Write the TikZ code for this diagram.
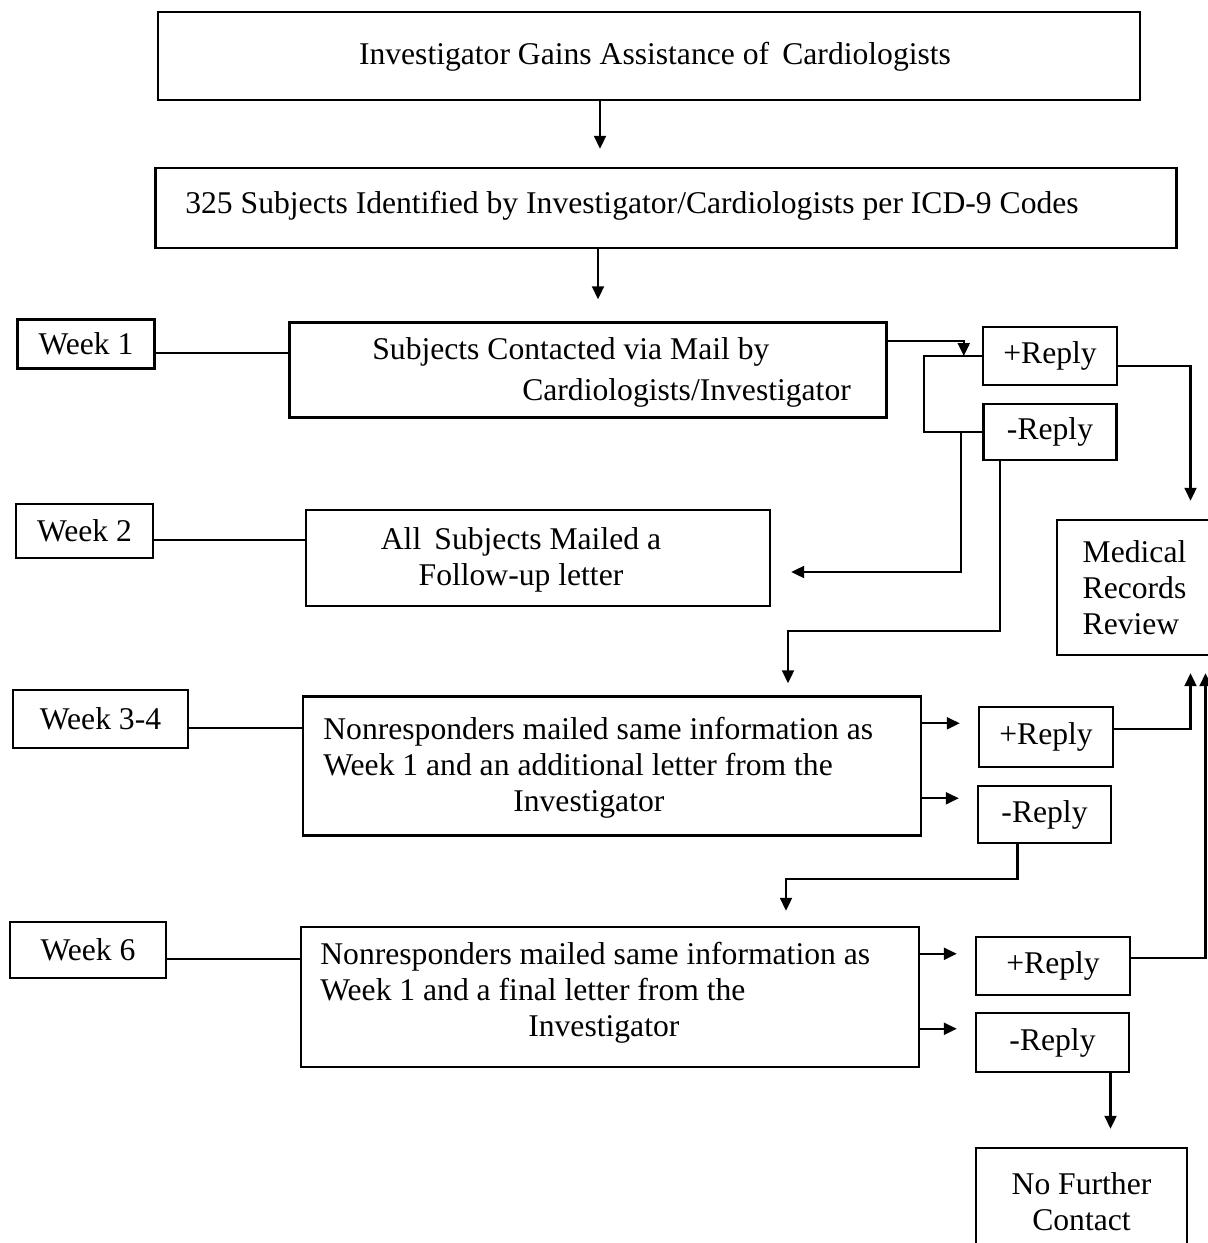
\documentclass[tikz,border=0pt]{standalone}
\usepackage{fontspec}
\setmainfont{Liberation Serif}
\usetikzlibrary{positioning,calc,arrows.meta}
\tikzset{>={Triangle[length=2.6mm,width=2.4mm]}}

\begin{document}
\begin{tikzpicture}[
    x=0.02cm, y=-0.02cm,
    font=\fontsize{18}{20.5}\selectfont,
    box/.style={draw, line width=1.4pt, inner sep=0pt},
    tag/.style={box, align=center},
    txt/.style={inner sep=0pt, align=left},
    link/.style={line width=1.2pt}
]
\useasboundingbox (0,0) rectangle (1207,1243);

% main boxes and their text
\node[box, minimum width=19.64cm, minimum height=1.76cm] (top) at (649,56) {};
\node[txt] (topT) at (655,57) {Investigator Gains Assistance of\, Cardiologists};
\node[box, minimum width=20.42cm, minimum height=1.6cm] (ident) at (666,208) {};
\node[txt] (identT) at (632,206) {325 Subjects Identified by Investigator/Cardiologists per ICD-9 Codes};
\node[box, minimum width=11.94cm, minimum height=1.9cm] (mail1) at (588,370) {};
\node[txt, anchor=west] (mail1T) at (372,372) {Subjects Contacted via Mail by\\[0.1cm]\hspace*{3cm}Cardiologists/Investigator};
\node[box, minimum width=9.28cm, minimum height=1.92cm] (mail2) at (538,558) {};
\node[txt, align=center] (mail2T) at (521,560) {All\, Subjects Mailed a\\Follow-up letter};
\node[box, minimum width=12.36cm, minimum height=2.78cm] (mail34) at (612,766) {};
\node[txt, anchor=west] (mail34T) at (323,768) {Nonresponders mailed same information as\\Week 1 and an additional letter from the\\\hspace*{3.8cm}Investigator};
\node[box, minimum width=12.36cm, minimum height=2.8cm] (mail6) at (610,997) {};
\node[txt, anchor=west] (mail6T) at (320,993) {Nonresponders mailed same information as\\Week 1 and a final letter from the\\\hspace*{4.16cm}Investigator};

% week tags
\node[tag, minimum width=2.74cm, minimum height=0.98cm] (wk1) at (86,344) {Week 1};
\node[tag, minimum width=2.74cm, minimum height=1.08cm] (wk2) at (84.5,531) {Week 2};
\node[tag, minimum width=3.5cm, minimum height=1.16cm] (wk34) at (100.5,719) {Week 3-4};
\node[tag, minimum width=3.12cm, minimum height=1.12cm] (wk6) at (88,950) {Week 6};

% replies
\node[tag, minimum width=2.68cm, minimum height=1.16cm] (pos1) at (1050,356) {+Reply};
\node[tag, minimum width=2.66cm, minimum height=1.12cm] (neg1) at (1050,432) {-Reply};
\node[tag, minimum width=2.68cm, minimum height=1.2cm] (pos34) at (1046,737) {+Reply};
\node[tag, minimum width=2.66cm, minimum height=1.14cm] (neg34) at (1044.5,814.5) {-Reply};
\node[tag, minimum width=3.08cm, minimum height=1.16cm] (pos6) at (1053,966) {+Reply};
\node[tag, minimum width=3.06cm, minimum height=1.18cm] (neg6) at (1052.5,1042.5) {-Reply};

% outcomes
\node[box, align=left, minimum width=3.1cm, minimum height=2.7cm] (mrr) at (1134.5,587.5) {Medical\\Records\\Review};
\node[tag, minimum width=4.22cm, minimum height=2.14cm] (nfc) at (1081.5,1201.5) {No Further\\Contact};

% top of the flow
\draw[link,->,shorten >=0.36cm] ($(top.south)+(-49,0)$) -- ($(ident.north)+(-66,0)$);
\draw[link,->,shorten >=0.44cm] ($(ident.south)+(-68,0)$) -- ($(mail1.north)+(10,0)$);

\foreach \w/\m in {wk1/mail1, wk2/mail2, wk34/mail34, wk6/mail6} {
  \coordinate (l) at ($(\w.east)+(0,9)$);
  \draw[link] (l) -- (l -| \m.west);
}

% week 1 replies
\coordinate (r1) at ($(mail1.north east)+(0,20)$);
\draw[link,->] (r1) -| ($(pos1.west)+(-18,0)$);
\draw[link] (pos1.west) -- ++(-58,0) |- (neg1.west);
\draw[link,->,shorten >=0.4cm] ($(neg1.west)+(-21,0)$) |- ($(mail2.east)+(0,14)$);
\draw[link,->,shorten >=0.24cm] ($(neg1.south)+(-50,0)$) -- ++(0,170) -| ($(mail34.north)+(176,0)$);
\draw[link,->,shorten >=0.36cm] ($(pos1.east)+(0,10)$) -| ($(mrr.north)+(56,0)$);

% week 3-4 and week 6 replies
\foreach \m/\p/\n in {mail34/pos34/neg34, mail6/pos6/neg6} {
  \coordinate (u) at ($(\m.north east)+(0,28)$);
  \coordinate (d) at ($(\m.north east)+(0,103)$);
  \draw[link,->,shorten >=0.36cm] (u) -- (u -| \p.west);
  \draw[link,->,shorten >=0.36cm] (d) -- (d -| \n.west);
}
\draw[link,->,shorten >=0.34cm] ($(pos34.east)+(0,-8)$) -| ($(mrr.south)+(56,0)$);
\draw[link,->,shorten >=0.3cm] ($(neg34.south)+(-27,0)$) -- ++(0,35) -| ($(mail6.north)+(176,0)$);
\draw[link,->,shorten >=0.34cm] ($(pos6.east)+(0,-8)$) -| ($(mrr.south)+(71,0)$);
\draw[link,->,shorten >=0.36cm] ($(neg6.south)+(58,0)$) -- ($(nfc.north)+(29,0)$);
\end{tikzpicture}
\end{document}
